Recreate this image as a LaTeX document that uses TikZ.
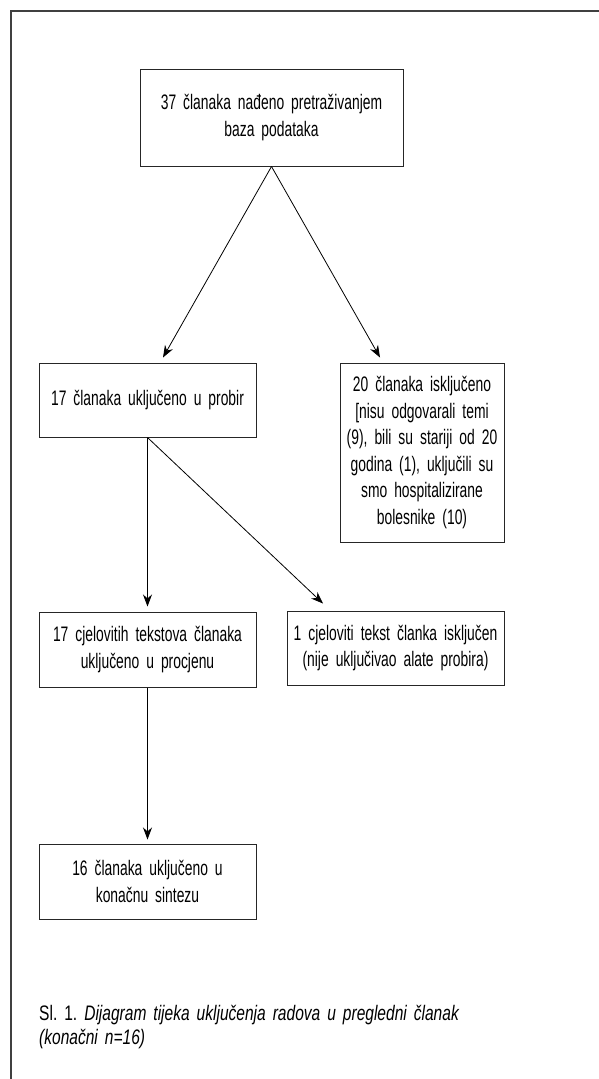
\documentclass[tikz,border=0pt]{standalone}
\usepackage{fontspec}
\setmainfont{Liberation Sans}[FakeStretch=0.66]
\newfontfamily\opisfont{Liberation Sans}[FakeStretch=0.74]
\frenchspacing
\usetikzlibrary{arrows.meta, positioning}
\tikzset{
  okvir/.style={draw=black!85, line width=1pt, align=center, inner xsep=4pt,
    inner ysep=0pt, font=\fontsize{21}{26.5}\selectfont},
  strelica/.style={-{Stealth[length=12pt, width=9pt]}, line width=0.8pt}
}

\begin{document}
\begin{tikzpicture}[x=1pt, y=-1pt]
      \useasboundingbox (0,0) rectangle (599,1079);
      \def\sirina{209pt}

      % Draw outer frame
      \draw[line width=1.2pt, black!75] (11,1079) -- (11,11) -- (599,11);

      % Draw boxes
      \node[okvir, text width=255pt, minimum height=97pt] (baza) at (271.5,117.5)
        {37 članaka nađeno pretraživanjem\\baza podataka};
      \node[okvir, text width=\sirina, minimum height=74pt] (probir) at (147.5,400)
        {17 članaka uključeno u probir};
      \node[okvir, text width=156pt, minimum height=179pt] (iskljuceno) at (422,452.5)
        {20 članaka isključeno\\{[}nisu odgovarali temi\\(9), bili su stariji od 20\\godina (1), uključili su\\smo hospitalizirane\\bolesnike (10)};
      \node[okvir, text width=\sirina, minimum height=75pt] (procjena) at (147.5,649.5)
        {17 cjelovitih tekstova članaka\\uključeno u procjenu};
      \node[okvir, text width=\sirina, minimum height=74pt] (tekst) at (395.5,648)
        {1 cjeloviti tekst članka isključen\\(nije uključivao alate probira)};
      \node[okvir, text width=\sirina, minimum height=75pt] (sinteza) at (147.5,881.5)
        {16 članaka uključeno u\\konačnu sintezu};

      % Draw arrows
      \draw[strelica] (baza.south) -- ([xshift=15.5pt, yshift=5pt]probir.north);
      \draw[strelica] (baza.south) -- ([xshift=-42pt, yshift=5pt]iskljuceno.north);
      \draw[strelica] (probir.south) -- ([yshift=5pt]procjena.north);
      \draw[strelica] (probir.south) -- ([xshift=-72.5pt, yshift=7pt]tekst.north);
      \draw[strelica] (procjena.south) -- ([yshift=4pt]sinteza.north);

      % Caption
      \node[anchor=north west, align=left, text width=520pt, inner sep=0pt,
        font=\opisfont\fontsize{21}{24}\selectfont] (opis) at (39,1005)
        {Sl. 1. {\itshape Dijagram tijeka uključenja radova u pregledni članak\\(konačni n=16)}};
    \end{tikzpicture}
\end{document}
